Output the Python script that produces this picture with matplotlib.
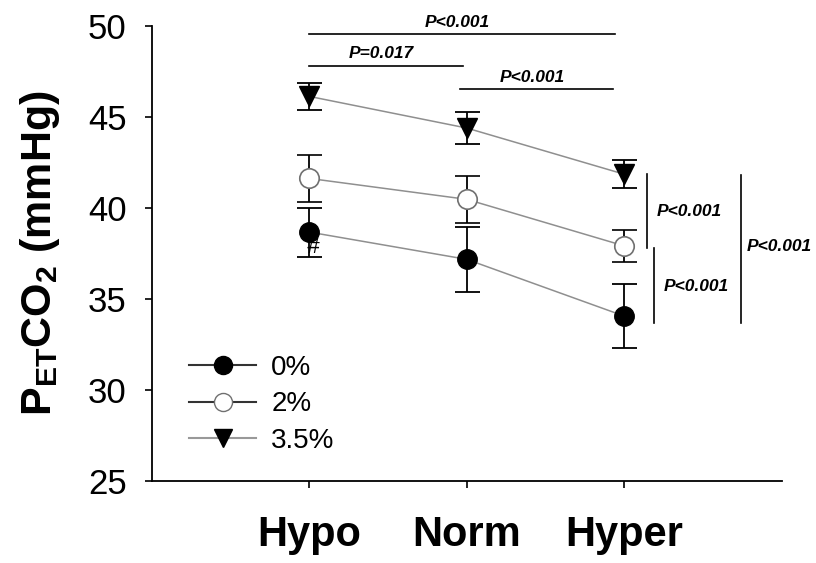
import matplotlib
matplotlib.use('Agg')
import matplotlib.pyplot as plt
from matplotlib.lines import Line2D

plt.rcParams['font.family'] = ['Liberation Sans', 'DejaVu Sans']
plt.rcParams['mathtext.fontset'] = 'custom'
plt.rcParams['mathtext.rm'] = 'Liberation Sans'
plt.rcParams['mathtext.bf'] = 'Liberation Sans:bold'

# data (mean +/- SE, mmHg)
conditions = ['Hypo', 'Norm', 'Hyper']
petco2_0 = [38.67, 37.17, 34.05]
err_0 = [1.35, 1.8, 1.75]
petco2_2 = [41.62, 40.47, 37.91]
err_2 = [1.3, 1.28, 0.87]
petco2_35 = [46.13, 44.39, 41.85]
err_35 = [0.75, 0.88, 0.78]
series_labels = ['0%', '2%', '3.5%']

# pairwise comparisons between conditions (from, to, label)
cond_pairs = [(0, 2, 'P<0.001'), (0, 1, 'P=0.017'), (1, 2, 'P<0.001')]
# comparisons between CO2 levels at Hyper
level_labels = ['P<0.001', 'P<0.001', 'P<0.001']

x = list(range(len(conditions)))

fig = plt.figure(figsize=(8.16, 5.63), dpi=100)
ax = fig.add_axes([0.186, 0.1462, 0.772, 0.8076])

line_col = '#8f8f8f'
eb = dict(ecolor='black', elinewidth=1.3, capsize=9, capthick=1.3)
ax.errorbar(x, petco2_0, yerr=err_0, color=line_col, lw=1.1, marker='o', ms=14,
            mfc='black', mec='black', zorder=3, **eb)
ax.errorbar(x, petco2_2, yerr=err_2, color=line_col, lw=1.1, marker='o', ms=14,
            mfc='white', mec='#707070', mew=1.2, zorder=3, **eb)
ax.errorbar(x, petco2_35, yerr=err_35, color=line_col, lw=1.1, marker='v', ms=14,
            mfc='black', mec='black', zorder=3, **eb)

ax.text(0.02, 37.8, '#', ha='center', va='center', fontsize=16, fontstyle='italic', zorder=2)

ax.set_xlim(-1, 3)
ax.set_ylim(25, 50)
ax.set_yticks([25, 30, 35, 40, 45, 50])
ax.set_xticks(x)
ax.set_xticklabels(conditions, fontsize=30, fontweight='bold')
ax.tick_params(axis='y', labelsize=25, length=5, width=1.2, pad=13, direction='out')
ax.tick_params(axis='x', length=5, width=1.2, pad=20, direction='out')
for s in ['top', 'right']:
    ax.spines[s].set_visible(False)
for s in ['left', 'bottom']:
    ax.spines[s].set_linewidth(1.3)

ax.set_ylabel(r'$\mathbf{P_{ET}CO_2}$ (mmHg)', fontsize=31, fontweight='bold', labelpad=19)

# significance brackets
sig_font = dict(fontsize=12.5, fontweight='bold', fontstyle='italic')
bar_y = [49.58, 47.82, 46.55]
txt_y = [50.18, 48.5, 47.16]
ends = [(0, 1.94), (0, 0.975), (0.957, 1.93)]
txt_x = [0.94, 0.46, 1.418]
for (i, j, lab), y, ty, (a, b), tx in zip(cond_pairs, bar_y, txt_y, ends, txt_x):
    ax.plot([a, b], [y, y], color='black', lw=1.2, clip_on=False)
    ax.text(tx, ty, lab, ha='center', va='center', clip_on=False, **sig_font)

vx = [2.144, 2.188, 2.744]
vy = [(37.8, 41.84), (33.65, 37.77), (33.65, 41.8)]
vtx = [(2.205, 39.79), (2.25, 35.66), (2.78, 37.86)]
for xx, (y0, y1), (tx, ty), lab in zip(vx, vy, vtx, level_labels):
    ax.plot([xx, xx], [y0, y1], color='black', lw=1.2, clip_on=False)
    ax.text(tx, ty, lab, ha='left', va='center', clip_on=False, **sig_font)

handles = [
    Line2D([], [], color='#333333', lw=1.5, marker='o', ms=13, mfc='black', mec='black'),
    Line2D([], [], color='#333333', lw=1.5, marker='o', ms=13, mfc='white', mec='#707070'),
    Line2D([], [], color='#999999', lw=1.5, marker='v', ms=13, mfc='black', mec='black'),
]
fig.legend(handles, series_labels, loc='upper left', bbox_to_anchor=(189.3 / 816, 1 - 355 / 563),
           frameon=False, fontsize=20, handlelength=2.4, handletextpad=0.55,
           labelspacing=0.37, borderpad=0, borderaxespad=0)

plt.savefig('out.png', dpi=100)
